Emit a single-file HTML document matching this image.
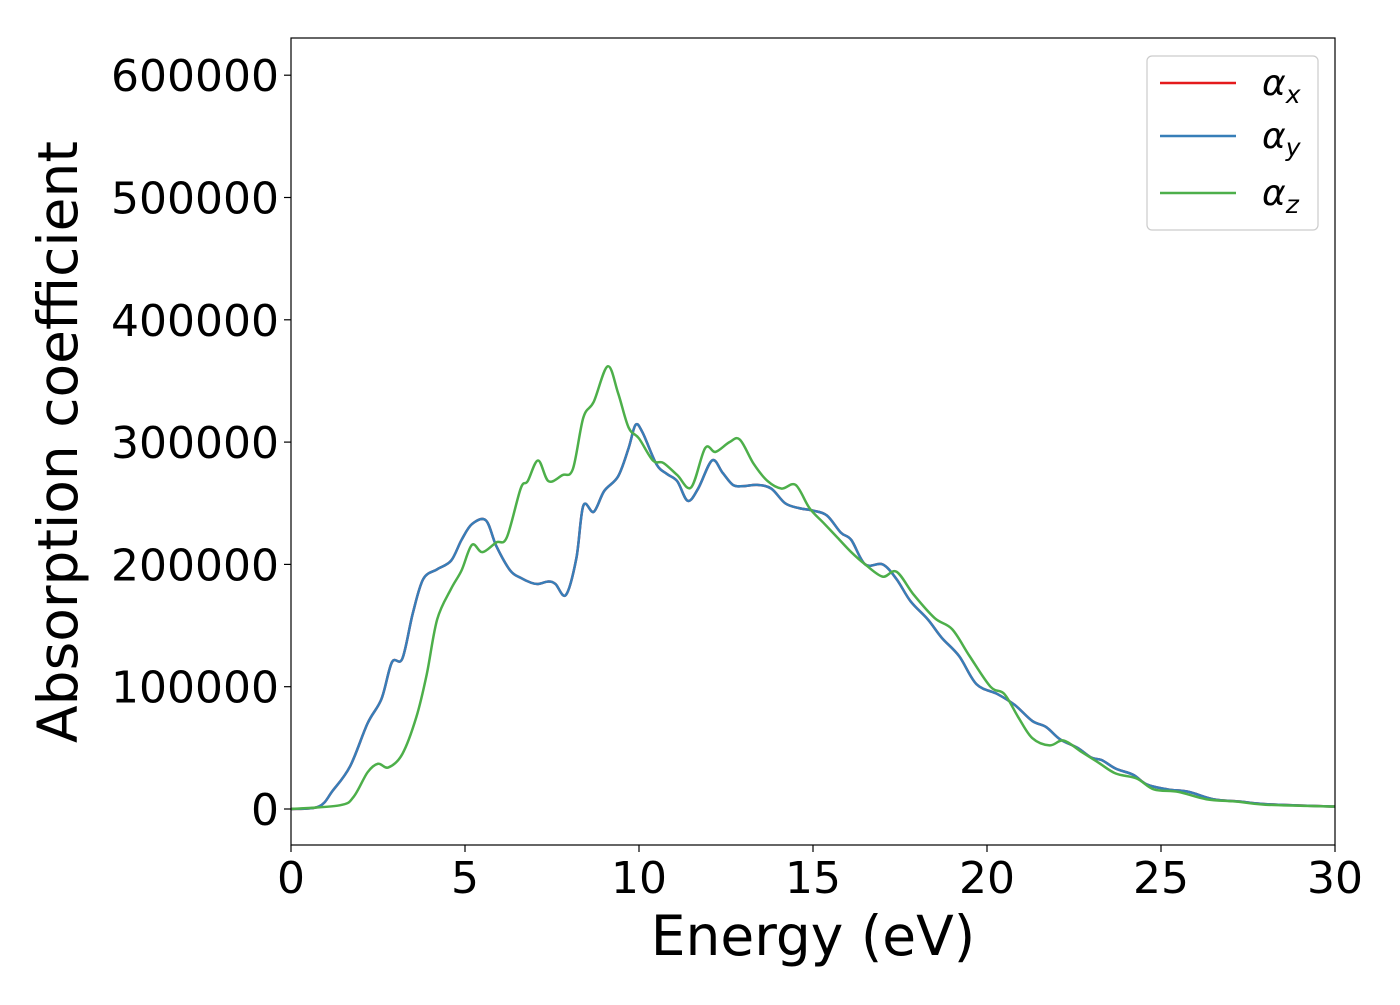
<!DOCTYPE html>
<html><head><meta charset="utf-8"><style>
body{margin:0;background:#fff;}
svg text{font-family:"DejaVu Sans","Liberation Sans",sans-serif;fill:#000;}
</style></head><body>
<svg width="1400" height="1000" viewBox="0 0 1400 1000">
<g id="plot"></g>
</svg>
<script>
const xTicks=[0,5,10,15,20,25,30];
const yTicks=[0,100000,200000,300000,400000,500000,600000];
const energyY=[0,0.8,1.2,1.7,2.2,2.6,2.9,3.2,3.5,3.8,4.2,4.6,4.9,5.2,5.6,5.9,6.3,6.6,6.9,7.1,7.4,7.6,7.9,8.2,8.4,8.7,9.0,9.4,9.7,9.9,10.1,10.5,10.8,11.1,11.4,11.7,12.1,12.4,12.7,13.0,13.4,13.8,14.2,14.6,15.0,15.4,15.8,16.1,16.5,17.0,17.4,17.8,18.3,18.7,19.2,19.7,20.3,20.8,21.3,21.7,22.1,22.6,23.0,23.3,23.7,24.2,24.6,25.2,25.8,26.5,27.3,28,30];
const alphaY=[0,2000,15000,35000,70000,90000,120000,123000,160000,188000,196000,203000,220000,233000,236000,215000,195000,189000,185000,184000,186000,184000,175000,205000,248000,243000,260000,272000,295000,314000,308000,282000,274000,268000,252000,262000,285000,275000,265000,264000,265000,262000,250000,246000,244000,240000,226000,220000,200000,200000,188000,170000,155000,140000,125000,102000,94000,85000,72000,67000,57000,50000,42000,40000,33000,28000,20000,16000,14000,8000,6000,4000,2000];
const alphaX=alphaY.slice();
const energyZ=[0,1.4,1.8,2.2,2.5,2.8,3.2,3.6,3.9,4.2,4.6,4.9,5.2,5.5,5.9,6.2,6.6,6.8,7.1,7.4,7.8,8.1,8.4,8.7,9.1,9.4,9.7,10.0,10.4,10.7,11.1,11.5,11.9,12.2,12.6,12.9,13.3,13.7,14.1,14.5,14.9,15.3,15.7,16.1,16.5,17.0,17.4,17.9,18.5,19.0,19.5,20.1,20.5,20.9,21.3,21.8,22.2,22.7,23.2,23.7,24.3,24.8,25.5,26.3,27.2,28,30];
const alphaZ=[0,3000,10000,30000,37000,34000,45000,75000,110000,155000,180000,195000,216000,210000,218000,222000,262000,268000,285000,268000,273000,278000,320000,333000,362000,340000,312000,303000,285000,283000,273000,263000,295000,292000,300000,302000,282000,268000,262000,265000,246000,234000,222000,210000,200000,190000,194000,175000,156000,147000,125000,100000,94000,75000,58000,52000,56000,47000,38000,29000,25000,16000,14000,8000,6000,3500,2000];

const L=291,R=1335,T=38,B=845;
const xs=v=>L+(v-0)/(30-0)*(R-L);
const ys=v=>809-v/100000*122.3;
const NS="http://www.w3.org/2000/svg";
const g=document.getElementById('plot');
function mk(t,a){const e=document.createElementNS(NS,t);for(const k in a)e.setAttribute(k,a[k]);g.appendChild(e);return e;}
function path(xa,ya){
  const p=xa.map((x,i)=>[xs(x),ys(ya[i])]);
  let d=`M${p[0][0]},${p[0][1]}`;
  for(let i=0;i<p.length-1;i++){
    const p0=p[Math.max(0,i-1)],p1=p[i],p2=p[i+1],p3=p[Math.min(p.length-1,i+2)];
    const c1=[p1[0]+(p2[0]-p0[0])/6,p1[1]+(p2[1]-p0[1])/6];
    const c2=[p2[0]-(p3[0]-p1[0])/6,p2[1]-(p3[1]-p1[1])/6];
    d+=`C${c1[0]},${c1[1]} ${c2[0]},${c2[1]} ${p2[0]},${p2[1]}`;
  }
  return d;
}
let e;
e=mk('rect',{x:L,y:T,width:R-L,height:B-T,fill:'#fff',stroke:'none'});


e=mk('path',{d:path(energyY,alphaX),fill:'none',stroke:'#e41a1c','stroke-width':2.5});


e=mk('path',{d:path(energyY,alphaY),fill:'none',stroke:'#377eb8','stroke-width':2.5});


e=mk('path',{d:path(energyZ,alphaZ),fill:'none',stroke:'#4daf4a','stroke-width':2.5});


e=mk('rect',{x:L,y:T,width:R-L,height:B-T,fill:'none',stroke:'#000','stroke-width':1.2});


xTicks.forEach(t=>{
  e=mk('line',{x1:xs(t),x2:xs(t),y1:B,y2:B+7,stroke:'#000','stroke-width':1.2});
  
  
  e=mk('text',{x:xs(t),y:B+48,'font-size':44,'text-anchor':'middle'});
  e.textContent=t;
  
  
});
yTicks.forEach(t=>{
  e=mk('line',{x1:L-7,x2:L,y1:ys(t),y2:ys(t),stroke:'#000','stroke-width':1.2});
  
  
  e=mk('text',{x:L-12,y:ys(t)+16,'font-size':44,'text-anchor':'end'});
  e.textContent=t;
  
  
});
e=mk('text',{x:813,y:955,'font-size':55,'text-anchor':'middle'});
e.textContent='Energy (eV)';


e=mk('text',{x:0,y:0,'font-size':55,'text-anchor':'middle',transform:'translate(77,442) rotate(-90)'});
e.textContent='Absorption coefficient';


e=mk('rect',{x:1147,y:56,width:171,height:174,rx:5,fill:'#fff',stroke:'#ccc','stroke-width':1.2});


[['#e41a1c','x',83],['#377eb8','y',136],['#4daf4a','z',193]].forEach(([c,s,y])=>{
  e=mk('line',{x1:1160,x2:1236,y1:y,y2:y,stroke:c,'stroke-width':2.5});
  
  
  e=mk('text',{x:1262,y:y+12,'font-size':36,'font-style':'italic'});
  e.innerHTML='α<tspan font-size="25" dy="8">'+s+'</tspan>';
  
  
});
</script>
</body></html>
